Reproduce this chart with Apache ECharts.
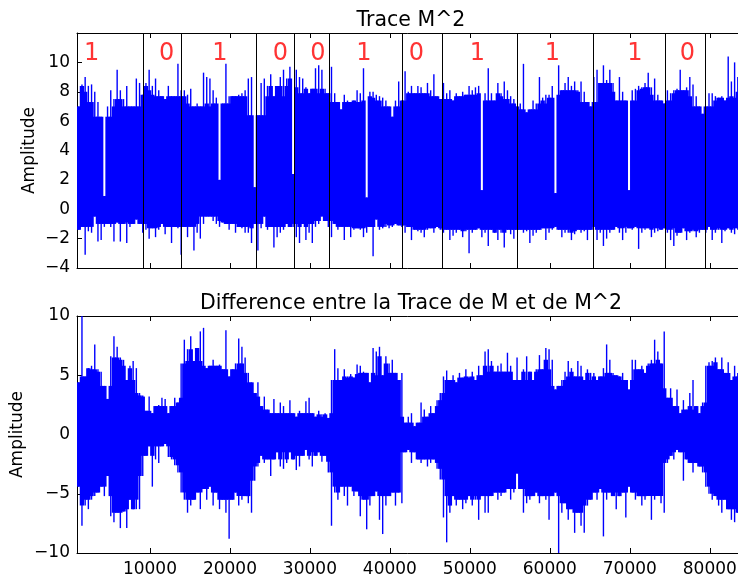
<!DOCTYPE html>
<html>
<head>
<meta charset="utf-8">
<script src="https://cdn.jsdelivr.net/npm/echarts@6/dist/echarts.min.js"></script>
<style>
  html, body { margin: 0; padding: 0; background: #fff; }
  #chart { width: 738px; height: 579px; }
</style>
</head>
<body>
<div id="chart"></div>
<script>
// Both traces are stored as one (max, min) pair per window of 400 samples.
const windowStart = 900;
const windowSize = 400;

// Trace M^2 : window maxima / minima
const traceHigh = [
  7.0, 8.5, 9.0, 8.4, 8.5, 8.0, 7.3, 6.3, 0.9, 7.0, 8.1, 7.5, 9.5, 8.1, 7.5, 8.4, 7.0, 7.0, 8.9, 8.6,
  7.8, 8.6, 9.5, 8.4, 8.9, 8.1, 7.7, 7.5, 8.4, 7.7, 7.7, 9.9,
  8.1, 8.1, 7.8, 8.2, 7.0, 7.2, 7.0, 9.3, 9.0, 8.9, 8.1, 7.6, 2.0, 7.2, 9.9, 7.7, 7.7, 7.7, 7.8, 7.9, 8.1, 8.9, 9.0, 1.5,
  6.4, 8.6, 8.9, 8.4, 9.2, 7.7, 8.4, 9.0, 9.5, 8.9, 9.7, 2.4,
  9.5, 9.0, 8.9, 8.3, 7.9, 8.2, 9.6, 9.8, 9.5, 8.2, 7.9,
  9.7, 7.9, 7.3, 6.8, 7.8, 7.4, 7.3, 7.4, 8.1, 7.9, 9.6, 0.8, 8.0, 8.0, 7.8, 7.7, 7.6, 7.4, 7.0, 6.3, 7.4, 8.7, 7.4,
  9.4, 8.0, 8.4, 7.9, 8.4, 8.3, 7.9, 8.6, 8.1, 9.2, 7.7, 7.5,
  8.6, 7.9, 8.1, 7.4, 7.9, 7.7, 8.0, 7.8, 8.4, 8.1, 8.3, 8.4, 1.3, 7.9, 9.6, 7.9, 7.4, 8.6, 7.9, 8.7, 8.1, 7.7, 7.5, 7.0,
  7.2, 9.9, 6.6, 6.8, 7.4, 7.2, 9.0, 7.6, 7.8, 7.8, 8.4, 1.1, 9.8, 8.1, 8.6, 9.0, 8.4, 8.7, 8.1, 8.7, 8.0, 7.3, 7.0,
  9.0, 9.5, 8.6, 9.8, 8.8, 9.5, 8.6, 7.4, 9.0, 8.0, 7.4, 1.3, 8.1, 8.2, 8.4, 8.3, 8.6, 9.3, 8.3, 8.9, 7.8, 7.4, 7.2,
  8.1, 7.9, 8.1, 8.2, 9.5, 8.1, 8.3, 9.0, 8.5, 7.7, 7.0, 6.5,
  7.0, 7.9, 7.9, 7.7, 7.6, 7.7, 7.4, 10.4, 8.7, 10.0, 9.0, 8.0, 7.6
];
const traceLow = [
  -1.4, -1.2, -3.1, -1.5, -1.6, -0.5, -2.2, -2.1, -1.2, -1.0, -1.2, -2.2, -0.9, -2.2, -1.0, -2.3, -1.2, -1.0, -0.7, -1.0,
  -1.6, -1.4, -2.0, -1.3, -1.9, -1.4, -1.0, -1.7, -1.2, -2.3, -1.2, -1.3,
  -3.1, -1.2, -1.9, -1.2, -2.8, -1.6, -2.0, -1.0, -0.5, -0.5, -0.8, -1.0, -1.2, -0.9, -1.0, -1.4, -1.0, -1.6, -1.2, -1.3, -1.6, -1.6, -2.3, -1.0,
  -2.8, -1.3, -0.5, -1.4, -1.2, -2.6, -1.9, -1.6, -1.4, -1.0, -1.2, -1.2,
  -1.9, -2.3, -1.0, -2.1, -1.6, -2.3, -1.2, -1.0, -0.5, -0.8, -1.2,
  -1.9, -1.0, -1.4, -1.2, -2.1, -1.2, -1.9, -1.4, -1.3, -1.4, -1.9, -1.6, -1.2, -3.2, -0.7, -1.4, -1.3, -1.2, -1.3, -1.2, -1.0, -1.1, -1.2,
  -1.6, -1.2, -2.1, -1.4, -1.5, -1.6, -1.9, -1.4, -1.3, -1.6, -1.2, -1.4,
  -1.6, -1.4, -2.1, -1.8, -1.6, -1.4, -1.9, -1.5, -3.0, -1.6, -1.4, -1.3, -1.9, -1.6, -2.5, -1.4, -1.6, -2.1, -1.6, -2.6, -1.4, -1.7, -2.0, -1.4,
  -1.4, -1.6, -1.5, -2.3, -1.8, -1.6, -1.4, -1.3, -2.1, -1.6, -1.4, -1.2, -1.4, -1.9, -1.6, -1.6, -2.1, -1.7, -1.4, -1.6, -1.5, -2.1, -1.4,
  -1.2, -2.1, -1.6, -2.5, -2.0, -1.6, -1.4, -1.2, -1.6, -2.1, -1.6, -1.3, -1.4, -1.2, -2.7, -1.6, -1.4, -1.3, -1.9, -1.6, -1.5, -1.4, -1.3,
  -1.6, -2.1, -2.5, -1.8, -1.6, -1.3, -2.1, -1.6, -1.5, -1.9, -1.6, -1.4,
  -1.6, -1.2, -2.1, -1.6, -1.4, -2.3, -1.5, -1.3, -1.6, -1.7, -1.4, -1.5, -1.3
];

// Difference between the trace of M and of M^2 : window maxima / minima
const diffHigh = [
  4.4, 10.0, 4.9, 5.6, 5.8, 7.6, 5.5, 5.3, 4.1, 3.0, 6.6, 8.3, 7.4, 6.5, 6.3, 4.6, 5.8, 6.2, 5.6, 3.5,
  3.3, 2.0, 3.2, 1.8, 2.4, 2.5, 3.1, 3.0, 1.8, 2.4, 3.1, 2.7,
  6.0, 8.0, 7.2, 8.3, 6.2, 7.3, 8.7, 9.0, 5.6, 5.8, 6.3, 5.8, 5.9, 5.5, 8.8, 4.9, 5.5, 6.0, 8.1, 7.4, 6.5, 5.2, 4.4, 3.5,
  4.4, 2.4, 3.2, 2.1, 1.8, 3.0, 1.8, 2.7, 2.4, 1.8, 2.9, 1.8, 1.5, 2.0, 1.8, 2.8, 3.1, 1.8, 1.5, 2.0, 1.7, 1.8, 1.4,
  4.6, 7.2, 5.6, 4.6, 5.5, 4.9, 5.1, 4.8, 5.9, 5.8, 5.3, 5.2, 4.4, 7.3, 7.0, 7.4, 5.0, 6.6, 6.0, 6.3, 5.2, 4.6, 5.2,
  1.0, 1.5, 1.8, 0.7, 1.0, 2.7, 2.1, 1.5, 2.4, 1.8, 2.9, 3.5,
  4.9, 5.4, 4.6, 5.0, 4.4, 5.2, 4.8, 5.5, 4.9, 5.3, 4.6, 5.8, 5.0, 7.0, 7.2, 6.2, 5.3, 5.8, 6.0, 5.3, 6.9, 5.8, 4.6, 6.5,
  4.6, 5.5, 6.6, 5.3, 4.6, 5.5, 6.7, 5.5, 7.3, 7.2, 6.3, 3.8, 4.1, 4.6, 5.3, 6.2, 5.6, 4.9, 6.2, 5.8, 4.6, 5.5, 5.2,
  5.2, 4.6, 4.9, 5.6, 7.6, 6.3, 5.2, 5.0, 4.9, 5.2, 4.6, 3.8, 6.3, 6.3, 5.5, 5.8, 5.2, 6.0, 6.3, 8.0, 7.0, 6.0, 8.7,
  3.1, 3.9, 2.4, 3.8, 1.8, 2.9, 2.1, 3.5, 4.6, 2.4, 1.8, 2.7,
  5.8, 6.1, 6.2, 6.5, 5.5, 6.5, 5.2, 6.1, 4.6, 5.8, 5.2, 4.9, 5.5
];
const diffLow = [
  -4.4, -7.7, -6.0, -6.3, -5.5, -5.2, -4.9, -4.4, -5.2, -3.5, -6.9, -7.4, -6.6, -7.9, -6.5, -7.9, -5.5, -6.3, -6.3, -6.3,
  -3.5, -1.8, -1.0, -4.4, -2.1, -2.4, -1.0, -0.8, -1.9, -2.1, -2.6, -3.2,
  -4.9, -5.5, -6.6, -6.0, -5.5, -4.9, -6.3, -4.6, -5.5, -4.4, -6.0, -4.9, -6.3, -5.5, -6.6, -8.8, -5.5, -4.9, -6.0, -5.5, -5.2, -5.8, -6.6, -3.9,
  -2.7, -1.8, -2.4, -2.1, -3.5, -2.1, -1.5, -2.7, -2.9, -2.4, -1.5, -2.1, -3.0, -2.7, -1.8, -1.3, -2.1, -2.7, -1.8, -1.5, -2.3, -1.8, -3.2,
  -7.7, -4.9, -5.5, -4.4, -5.2, -6.0, -4.4, -5.2, -4.8, -6.9, -5.5, -8.0, -6.0, -5.2, -4.8, -7.2, -8.4, -6.0, -5.2, -4.9, -6.0, -4.9, -5.8,
  -1.5, -1.3, -2.4, -1.5, -2.1, -2.4, -2.1, -2.7, -2.4, -2.1, -2.9, -3.8,
  -7.0, -9.1, -6.6, -5.2, -6.0, -5.5, -6.3, -5.8, -5.2, -6.0, -5.5, -7.2, -5.2, -6.6, -6.6, -5.2, -4.9, -5.5, -5.2, -4.9, -4.6, -5.5, -4.9, -3.3,
  -4.6, -6.6, -5.8, -5.5, -5.2, -4.9, -5.8, -5.2, -5.5, -7.2, -5.2, -4.9, -10.0, -6.6, -5.8, -7.2, -6.3, -8.3, -6.6, -7.7, -8.3, -6.0, -5.5,
  -4.9, -5.5, -4.6, -8.6, -5.5, -4.9, -5.2, -6.3, -5.2, -4.9, -7.0, -4.4, -4.9, -5.5, -5.2, -6.0, -5.5, -5.2, -7.2, -5.5, -5.2, -5.8, -6.6,
  -2.4, -1.8, -2.1, -1.3, -1.5, -3.9, -2.1, -2.4, -3.2, -2.4, -2.7, -3.2,
  -4.4, -5.0, -5.5, -5.2, -6.0, -6.6, -5.5, -6.3, -7.2, -7.4, -6.6, -6.0, -7.0
];

// Decoded key bits and the sample indices separating them
const bitEdges = [9160, 13970, 23340, 28050, 32420, 41600, 46560, 55940, 65440, 74410, 79450];
const bitValues = ['1', '0', '1', '0', '0', '1', '0', '1', '1', '1', '0'];
const bitLabelX = [2710, 12090, 18750, 26300, 31010, 36760, 43300, 50930, 60310, 70620, 77200];
const bitLabelY = 10.6;

const sampleTicks = [10000, 20000, 30000, 40000, 50000, 60000, 70000, 80000];
const sampleRange = [880, 84400];
const traceRange = [-4, 12];
const diffRange = [-10, 10];

const FONT = 'DejaVu Sans';
const TRACE_BLUE = '#0000ff';

// Level that the bulk of the samples in window k reaches: the second most
// moderate extreme among the windows within `spread`, never beyond its own.
function bulkLevel(values, k, upper, spread) {
  const near = values.slice(Math.max(0, k - spread), Math.min(values.length, k + spread + 1));
  near.sort((a, b) => upper ? a - b : b - a);
  const level = near[Math.min(1, near.length - 1)];
  return upper ? Math.min(values[k], level) : Math.max(values[k], level);
}

// One row per window: [start, end, max, min, bulk max, bulk min]
function windows(high, low, spread) {
  return high.map((h, k) => {
    const x0 = windowStart + k * windowSize;
    return [x0, x0 + windowSize, h, low[k],
            bulkLevel(high, k, true, spread), bulkLevel(low, k, false, spread)];
  });
}

// Dense band of the window plus a thin stroke out to its extremes.
function renderWindow(params, api) {
  const x0 = api.coord([api.value(0), 0])[0];
  const x1 = api.coord([api.value(1), 0])[0];
  const yMax = api.coord([0, api.value(2)])[1];
  const yMin = api.coord([0, api.value(3)])[1];
  const yBulkMax = api.coord([0, api.value(4)])[1];
  const yBulkMin = api.coord([0, api.value(5)])[1];
  const mid = (x0 + x1) / 2;
  return {
    type: 'group',
    children: [
      {
        type: 'rect',
        shape: { x: x0 - 0.6, y: yBulkMax, width: x1 - x0 + 1.2, height: yBulkMin - yBulkMax },
        style: { fill: TRACE_BLUE }
      },
      {
        type: 'rect',
        shape: { x: mid - 0.7, y: yMax, width: 1.4, height: yMin - yMax },
        style: { fill: TRACE_BLUE }
      }
    ]
  };
}

const minus = v => String(v).replace('-', '\u2212');

function sampleAxes(gridIndex, showLabels) {
  const common = {
    type: 'value', gridIndex, min: sampleRange[0], max: sampleRange[1],
    axisLine: { show: true, onZero: false, lineStyle: { color: '#000', width: 1 } },
    axisTick: { show: true, inside: true, length: 5, customValues: sampleTicks,
                lineStyle: { color: '#000', width: 1 } },
    splitLine: { show: false }
  };
  return [
    Object.assign({}, common, {
      position: 'bottom',
      axisLabel: { show: showLabels, customValues: sampleTicks, margin: 8,
                   color: '#000', fontFamily: FONT, fontSize: 17,
                   formatter: v => String(v) }
    }),
    Object.assign({}, common, { position: 'top', axisLabel: { show: false } })
  ];
}

function amplitudeAxis(gridIndex, range, interval, nameGap, hideTop) {
  return {
    type: 'value', gridIndex, min: range[0], max: range[1], interval,
    position: 'left',
    name: 'Amplitude', nameLocation: 'middle', nameGap, nameMoveOverlap: false,
    nameTextStyle: { color: '#000', fontFamily: FONT, fontSize: 17 },
    axisLine: { show: true, onZero: false, lineStyle: { color: '#000', width: 1 } },
    axisTick: { show: true, inside: true, length: 5, lineStyle: { color: '#000', width: 1 } },
    axisLabel: {
      margin: 7, color: '#000', fontFamily: FONT, fontSize: 17,
      formatter: v => (hideTop && v === range[1]) ? '' : minus(v)
    },
    splitLine: { show: false }
  };
}

function titleText(text, x, y) {
  return {
    type: 'text', x, y, silent: true,
    style: {
      text, font: '20.5px "DejaVu Sans"', fill: '#000',
      textAlign: 'center', align: 'center',
      textVerticalAlign: 'middle', verticalAlign: 'middle'
    }
  };
}

const chart = echarts.init(document.getElementById('chart'), null, { renderer: 'canvas' });

chart.setOption({
  animation: false,
  backgroundColor: '#fff',
  textStyle: { fontFamily: FONT },
  grid: [
    { left: 77, top: 33, width: 668, height: 235, outerBoundsMode: 'none', containLabel: false },
    { left: 77, top: 316, width: 668, height: 237, outerBoundsMode: 'none', containLabel: false }
  ],
  xAxis: [...sampleAxes(0, false), ...sampleAxes(1, true)],
  yAxis: [
    amplitudeAxis(0, traceRange, 2, 39, true),
    amplitudeAxis(1, diffRange, 5, 51, false)
  ],
  graphic: [
    titleText('Trace M^2', 411, 20.7),
    titleText('Difference entre la Trace de M et de M^2', 411, 304)
  ],
  series: [
    {
      name: 'Trace M^2', type: 'custom', xAxisIndex: 0, yAxisIndex: 0,
      data: windows(traceHigh, traceLow, 3),
      encode: { x: [0, 1], y: [2, 3] },
      renderItem: renderWindow, clip: true, silent: true, z: 2,
      progressive: 0
    },
    {
      name: 'bits', type: 'scatter', xAxisIndex: 0, yAxisIndex: 0,
      symbolSize: 0, silent: true, z: 4,
      data: bitLabelX.map((x, i) => ({ value: [x, bitLabelY], name: bitValues[i] })),
      label: {
        show: true, position: 'inside', formatter: p => p.name,
        color: '#ff0000', fontFamily: FONT, fontSize: 24
      },
      markLine: {
        silent: true, symbol: ['none', 'none'], animation: false,
        label: { show: false },
        emphasis: { disabled: true },
        lineStyle: { color: '#000', width: 1, type: 'solid', opacity: 1 },
        data: bitEdges.map(x => ({ xAxis: x }))
      }
    },
    {
      name: 'Difference', type: 'custom', xAxisIndex: 2, yAxisIndex: 1,
      data: windows(diffHigh, diffLow, 2),
      encode: { x: [0, 1], y: [2, 3] },
      renderItem: renderWindow, clip: true, silent: true, z: 2,
      progressive: 0
    }
  ]
});
</script>
</body>
</html>
